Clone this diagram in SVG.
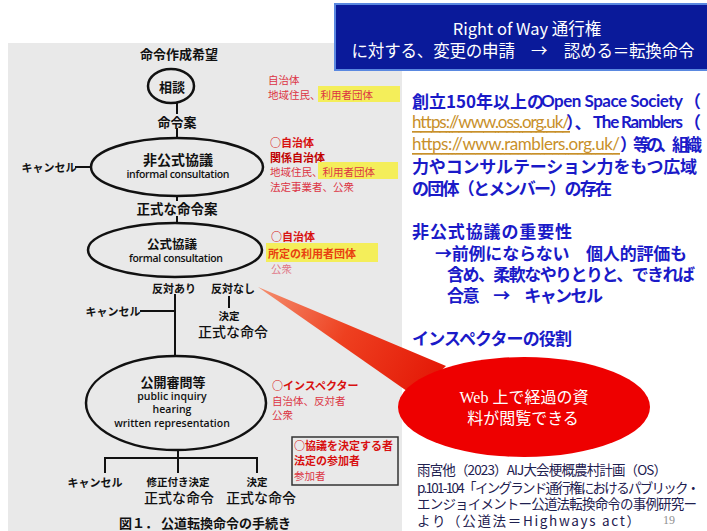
<svg xmlns="http://www.w3.org/2000/svg" width="707" height="531" viewBox="0 0 707 531">
<defs>
<style>
text{dominant-baseline:central}
.lbl{font-family:"Noto Sans CJK JP","Noto Sans",sans-serif;font-weight:bold;fill:#111;text-anchor:middle}
.big{font-family:"Noto Sans CJK JP",sans-serif;font-weight:500;fill:#111;text-anchor:middle;font-size:14px}
.en{font-family:"Open Sans","Noto Sans CJK JP",sans-serif;font-weight:600;fill:#111;text-anchor:middle;font-size:10.5px}
.node{fill:none;stroke:#111;stroke-width:2.5}
.conn line{stroke:#111;stroke-width:2}
.rb{font-family:"Noto Sans CJK JP",sans-serif;font-weight:bold;fill:#d81010;font-size:11px}
.rn{font-family:"Noto Sans CJK JP",sans-serif;fill:#dc3444;font-size:10.5px}
.hl{fill:#f4ee5a}
.blue{font-family:"Noto Sans CJK JP",sans-serif;font-weight:bold;fill:#1a1ac8;font-size:17px}
.lat{font-family:Lato,"Noto Sans CJK JP",sans-serif}
.link{font-family:Lato,"Noto Sans CJK JP",sans-serif;font-weight:normal;fill:#c8902a;text-decoration:underline}
.cite{font-family:"Noto Sans CJK JP",sans-serif;fill:#1e2050;font-size:13.5px}
.title{font-family:"Noto Sans CJK JP",sans-serif;fill:#fff;font-size:16.5px;text-anchor:middle}
</style>
<linearGradient id="wedge" x1="258" y1="286" x2="430" y2="385" gradientUnits="userSpaceOnUse">
<stop offset="0" stop-color="#f49070"/><stop offset="0.5" stop-color="#ee4020"/><stop offset="1" stop-color="#e41a08"/>
</linearGradient>
</defs>
<rect width="707" height="531" fill="#fff"/>
<rect x="8" y="43" width="394" height="488" fill="#e9e9e9"/>

<g id="title">
<rect x="335" y="4" width="380" height="66" fill="#0a1a9a" stroke="#5a88e0" stroke-width="2"/>
<text class="title" x="527" y="28">Right of Way 通行権</text>
<text class="title" x="523" y="50" textLength="343">に対する、変更の申請　→　認める＝転換命令</text>
</g>

<g class="conn" id="connectors">
<line x1="177" y1="103" x2="177" y2="114"/>
<line x1="177" y1="128" x2="177" y2="138"/>
<line x1="75" y1="167" x2="91" y2="167"/>
<line x1="177" y1="196" x2="177" y2="201"/>
<line x1="177" y1="216" x2="177" y2="223"/>
<line x1="175" y1="294" x2="175" y2="356"/>
<line x1="140" y1="311" x2="175" y2="311"/>
<line x1="229" y1="296" x2="229" y2="308"/>
<line x1="178" y1="450" x2="178" y2="458"/>
<line x1="104" y1="458" x2="258" y2="458"/>
<line x1="105" y1="457" x2="105" y2="473"/>
<line x1="178" y1="457" x2="178" y2="473"/>
<line x1="257" y1="457" x2="257" y2="473"/>
</g>

<g id="start"><text class="lbl" x="179" y="53" font-size="13">命令作成希望</text></g>
<g id="soudan">
<ellipse class="node" cx="171" cy="86" rx="23" ry="17"/>
<text class="lbl" x="172" y="86" font-size="13">相談</text>
</g>
<g id="meireian"><text class="lbl" x="177" y="121" font-size="13">命令案</text></g>
<g id="informal">
<ellipse class="node" cx="177" cy="167" rx="86" ry="29"/>
<text class="lbl" x="178" y="159" font-size="14">非公式協議</text>
<text class="en" x="178" y="174" textLength="103">informal consultation</text>
</g>
<g id="cancel1"><text class="lbl" x="49" y="167" font-size="11">キャンセル</text></g>
<g id="seishikian"><text class="lbl" x="177" y="208" font-size="13.5">正式な命令案</text></g>
<g id="formal">
<ellipse class="node" cx="175" cy="250" rx="87" ry="27"/>
<text class="lbl" x="172" y="243" font-size="12.5">公式協議</text>
<text class="en" x="176" y="258" textLength="94">formal consultation</text>
</g>
<g id="hantaiari"><text class="lbl" x="174" y="288" font-size="11">反対あり</text></g>
<g id="hantainashi"><text class="lbl" x="233" y="288" font-size="11">反対なし</text></g>
<g id="cancel2"><text class="lbl" x="113" y="311" font-size="11">キャンセル</text></g>
<g id="kettei1">
<text class="lbl" x="229" y="315" font-size="10.5">決定</text>
<text class="big" x="233" y="331">正式な命令</text>
</g>
<g id="public">
<ellipse class="node" cx="176" cy="403" rx="90" ry="47"/>
<text class="lbl" x="173" y="381" font-size="13">公開審問等</text>
<text class="en" x="172" y="396">public inquiry</text>
<text class="en" x="172" y="409">hearing</text>
<text class="en" x="172" y="423">written representation</text>
</g>
<g id="cancel3"><text class="lbl" x="95" y="482" font-size="11">キャンセル</text></g>
<g id="shusei">
<text class="lbl" x="178" y="481" font-size="10.5">修正付き決定</text>
<text class="big" x="179" y="497">正式な命令</text>
</g>
<g id="kettei2">
<text class="lbl" x="257" y="481" font-size="10.5">決定</text>
<text class="big" x="261" y="497">正式な命令</text>
</g>
<g id="caption"><text class="lbl" x="205" y="522" font-size="13">図１． 公道転換命令の手続き</text></g>

<g id="notes">
<text class="rn" x="268" y="79">自治体</text>
<rect class="hl" x="318" y="86" width="82" height="16"/>
<text class="rn" x="268" y="94">地域住民、利用者団体</text>
<text class="rb" x="270" y="142">○自治体</text>
<text class="rb" x="270" y="157" style="fill:#c00000">関係自治体</text>
<rect class="hl" x="318" y="162" width="80" height="17"/>
<text class="rn" x="270" y="171">地域住民、利用者団体</text>
<text class="rn" x="270" y="186">法定事業者、公衆</text>
<text class="rb" x="271" y="236">○自治体</text>
<rect class="hl" x="266" y="243" width="112" height="19"/>
<text class="rb" x="268" y="253" font-size="12.5" style="fill:#e84010">所定の利用者団体</text>
<text class="rn" x="271" y="268" style="fill:#e07888">公衆</text>
<text class="rb" x="272" y="385">○インスペクター</text>
<text class="rn" x="272" y="400">自治体、反対者</text>
<text class="rn" x="272" y="414">公衆</text>
<rect x="292" y="437" width="106" height="48" fill="none" stroke="#333" stroke-width="1.5"/>
<text class="rb" x="294" y="445">○協議を決定する者</text>
<text class="rb" x="294" y="460">法定の参加者</text>
<text class="rn" x="294" y="475">参加者</text>
</g>

<g id="right-text">
<text class="blue" y="100"><tspan x="412">創立150年以上の</tspan><tspan class="lat" x="541" textLength="142">Open Space Society</tspan><tspan x="684">（</tspan></text>
<text class="blue" y="121"><tspan class="link" x="412" textLength="158">https://www.oss.org.uk/</tspan><tspan x="566">）、</tspan><tspan class="lat" x="593" textLength="90">The Ramblers</tspan><tspan x="684">（</tspan></text>
<text class="blue" y="143"><tspan class="link" x="412" textLength="208">https://www.ramblers.org.uk/</tspan><tspan x="620" textLength="82">）等の、組織</tspan></text>
<text class="blue" x="412" y="165" textLength="285">力やコンサルテーション力をもつ広域</text>
<text class="blue" x="412" y="187" textLength="200">の団体（とメンバー）の存在</text>
<text class="blue" x="412" y="230" textLength="160">非公式協議の重要性</text>
<text class="blue" x="435" y="252" textLength="252">→前例にならない　個人的評価も</text>
<text class="blue" x="447" y="273" textLength="248">含め、柔軟なやりとりと、できれば</text>
<text class="blue" x="447" y="294" textLength="156">合意　→　キャンセル</text>
<text class="blue" x="412" y="337" textLength="160">インスペクターの役割</text>
</g>

<g id="callout">
<polygon points="258,287 446,366 414,396" fill="url(#wedge)"/>
<ellipse cx="524" cy="407" rx="126" ry="50" fill="#ee0000"/>
<text x="524" y="397" fill="#fff" font-size="16" text-anchor="middle" font-family="'Liberation Serif','Noto Sans CJK JP',serif">Web 上で経過の資</text>
<text x="523" y="418" fill="#fff" font-size="16" text-anchor="middle" font-family="'Liberation Serif','Noto Sans CJK JP',serif">料が閲覧できる</text>
</g>

<g id="citation">
<text class="cite" x="417" y="469" textLength="250">雨宮他（2023）AIJ大会梗概農村計画（OS）</text>
<text class="cite" x="417" y="487" textLength="283">p.101-104「イングランド通行権におけるパブリック・</text>
<text class="cite" x="417" y="503" textLength="280">エンジョイメントー公道法転換命令の事例研究ー</text>
<text class="cite" x="417" y="520" textLength="223">より（公道法＝Highways act）</text>
<text x="663" y="520" fill="#909090" font-size="12" font-family="'Liberation Serif',serif">19</text>
</g>
</svg>
